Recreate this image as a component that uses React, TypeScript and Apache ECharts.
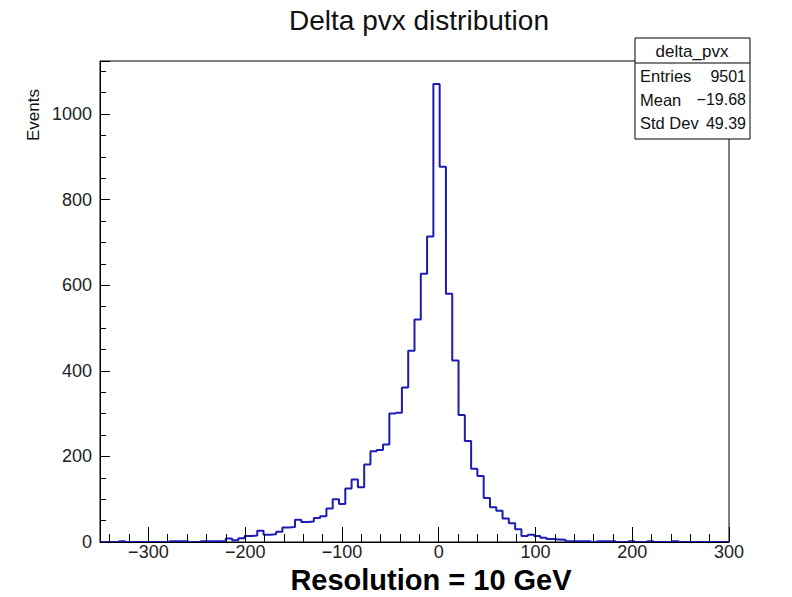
import React, { useEffect, useRef } from "react";
import * as echarts from "echarts";

// Histogram definition (ROOT TH1: 100 bins from -350 to 300)
const BIN_MIN = -350;
const BIN_MAX = 300;
const binCounts = [
  0, 0, 0, 2, 0, 0, 0, 0, 0, 0,
  0, 2, 2, 2, 0, 0, 2, 2, 2, 2,
  8, 4, 9, 14, 15, 26, 17, 18, 24, 34,
  35, 52, 47, 48, 56, 60, 78, 100, 89, 125,
  146, 128, 181, 212, 215, 228, 300, 302, 361, 447,
  520, 627, 714, 1070, 877, 580, 424, 297, 236, 171,
  154, 103, 81, 73, 55, 44, 30, 14, 17, 14,
  10, 7, 6, 5, 2, 2, 2, 2, 0, 2,
  2, 2, 0, 0, 2, 0, 0, 2, 0, 0,
  0, 2, 0, 0, 0, 0, 0, 0, 0, 0,
];

const Y_MAX = 1124;
const statsTitle = "delta_pvx";
const statsLabels = ["Entries", "Mean", "Std Dev"];
const statsValues = ["9501", "\u221219.68", "49.39"];

const FONT = "'Liberation Sans', Arial, Helvetica, sans-serif";

export default function App() {
  const ref = useRef<HTMLDivElement>(null);

  useEffect(() => {
    if (!ref.current) return;
    const chart = echarts.init(ref.current, undefined, { renderer: "svg" });
    const binWidth = (BIN_MAX - BIN_MIN) / binCounts.length;
    const stepData: number[][] = binCounts.map((c, k) => [BIN_MIN + k * binWidth, c]);
    stepData.push([BIN_MAX, binCounts[binCounts.length - 1]]);

    const fmt = (v: number) => (v < 0 ? "\u2212" + Math.abs(v) : String(v));

    const statsRows: any[] = [];
    statsLabels.forEach((lab, i) => {
      statsRows.push({
        type: "text",
        z: 11,
        style: {
          text: lab,
          x: 640,
          y: 76 + i * 23.5,
          font: `16.5px ${FONT}`,
          fill: "#111",
          textAlign: "left",
          textVerticalAlign: "middle",
        },
      });
      statsRows.push({
        type: "text",
        z: 11,
        style: {
          text: statsValues[i],
          x: 746,
          y: 76 + i * 23.5,
          font: `16px ${FONT}`,
          fill: "#111",
          textAlign: "right",
          textVerticalAlign: "middle",
        },
      });
    });

    chart.setOption({
      animation: false,
      backgroundColor: "#fff",
      grid: {
        left: 100,
        right: 63,
        top: 61,
        bottom: 55,
        show: true,
        borderColor: "#000",
        borderWidth: 1,
        backgroundColor: "transparent",
      },
      xAxis: {
        type: "value",
        min: BIN_MIN,
        max: BIN_MAX,
        minInterval: 100,
        maxInterval: 100,
        z: 5,
        axisLine: { show: true, onZero: false, lineStyle: { color: "#000", width: 1 } },
        axisTick: { show: true, inside: true, length: 15, lineStyle: { color: "#000", width: 1 } },
        minorTick: { show: true, splitNumber: 5, length: 8, lineStyle: { color: "#000", width: 1 } },
        splitLine: { show: false },
        minorSplitLine: { show: false },
        axisLabel: {
          showMinLabel: false,
          formatter: fmt,
          fontSize: 18,
          fontFamily: FONT,
          color: "#222",
          margin: 1,
          lineHeight: 18,
        },
      },
      yAxis: {
        type: "value",
        min: 0,
        max: Y_MAX,
        interval: 200,
        z: 5,
        axisLine: { show: true, onZero: false, lineStyle: { color: "#000", width: 1 } },
        axisTick: { show: true, inside: true, length: 10, lineStyle: { color: "#000", width: 1 } },
        minorTick: { show: true, splitNumber: 4, length: 6, lineStyle: { color: "#000", width: 1 } },
        splitLine: { show: false },
        axisLabel: {
          showMaxLabel: false,
          formatter: (v: number) => String(v),
          fontSize: 18,
          fontFamily: FONT,
          color: "#222",
          margin: 8,
        },
      },
      series: [
        {
          type: "line",
          step: "end",
          data: stepData,
          symbol: "none",
          z: 2,
          lineStyle: { color: "#1c1cb4", width: 2 },
          silent: true,
        },
      ],
      graphic: [
        {
          type: "text",
          z: 10,
          style: {
            text: "Delta pvx distribution",
            x: 419,
            y: 20,
            font: `28px ${FONT}`,
            fill: "#111",
            textAlign: "center",
            textVerticalAlign: "middle",
          },
        },
        {
          type: "text",
          z: 10,
          x: 33,
          y: 115,
          rotation: Math.PI / 2,
          style: {
            text: "Events",
            x: 0,
            y: 0,
            font: `17px ${FONT}`,
            fill: "#111",
            textAlign: "center",
            textVerticalAlign: "middle",
          },
        },
        {
          type: "rect",
          z: 10,
          shape: { x: 635, y: 38, width: 115, height: 101 },
          style: { fill: "#fff", stroke: "#000", lineWidth: 1 },
        },
        {
          type: "line",
          z: 10,
          shape: { x1: 635, y1: 63, x2: 750, y2: 63 },
          style: { stroke: "#000", lineWidth: 1 },
        },
        {
          type: "text",
          z: 11,
          style: {
            text: statsTitle,
            x: 692,
            y: 51,
            font: `17px ${FONT}`,
            fill: "#111",
            textAlign: "center",
            textVerticalAlign: "middle",
          },
        },
        ...statsRows,
        {
          type: "text",
          z: 10,
          style: {
            text: "Resolution = 10 GeV",
            x: 431,
            y: 580,
            font: `bold 29px 'Liberation Sans', Arial, sans-serif`,
            lineHeight: 29,
            fill: "#000",
            textAlign: "center",
            textVerticalAlign: "middle",
          },
        },
      ],
    });
    return () => chart.dispose();
  }, []);

  return <div ref={ref} style={{ width: 792, height: 597, position: "absolute", left: 0, top: 0 }} />;
}
